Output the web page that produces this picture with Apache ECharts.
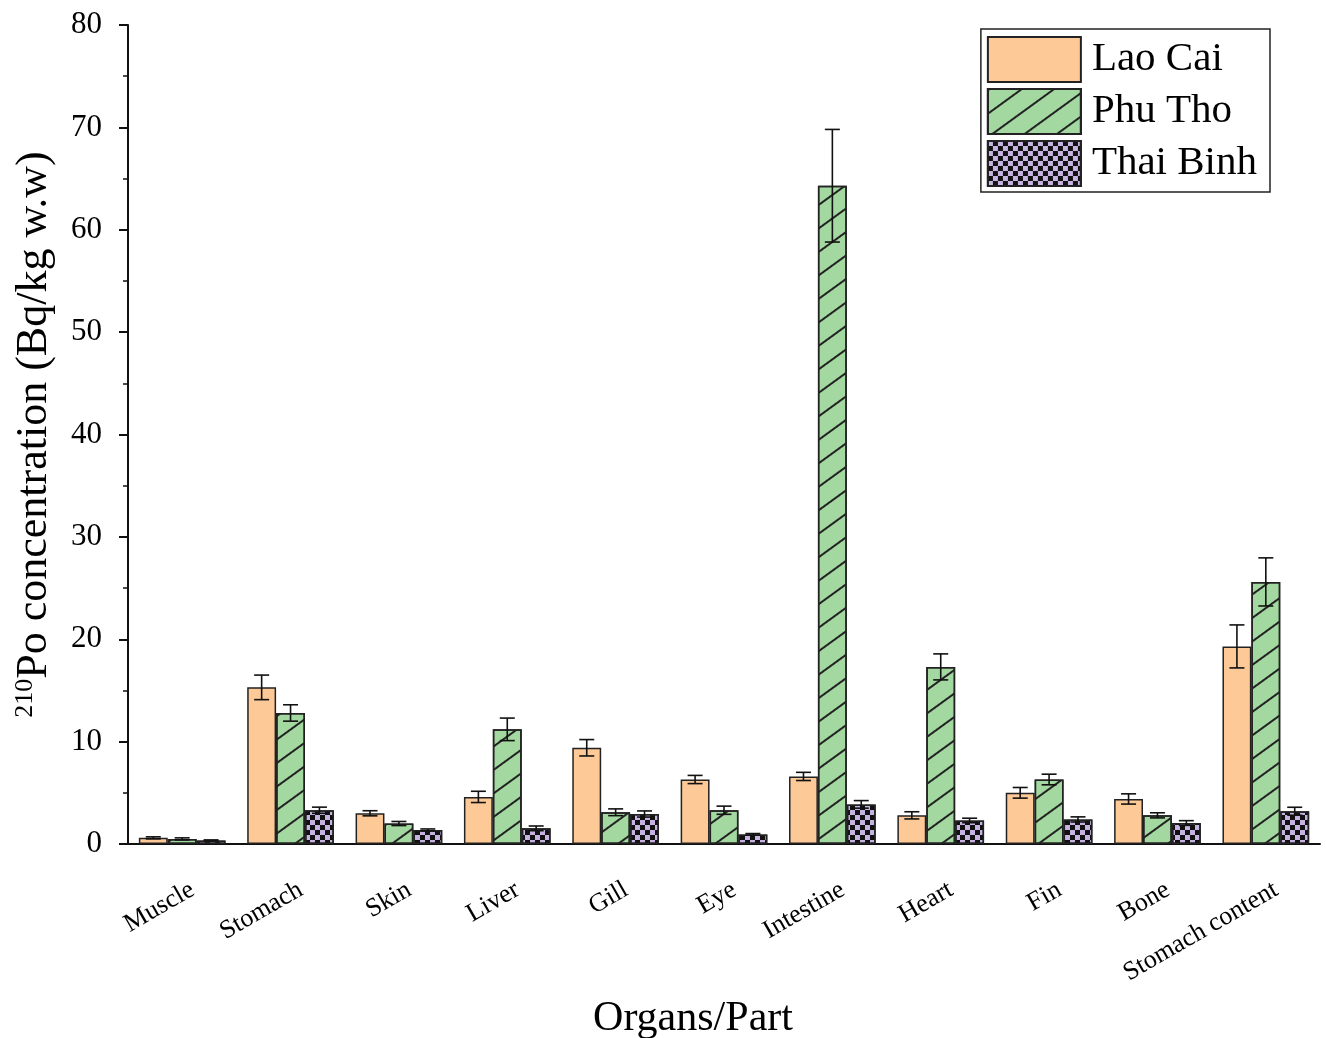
<!DOCTYPE html>
<html>
<head>
<meta charset="utf-8">
<script src="https://cdn.jsdelivr.net/npm/echarts@6/dist/echarts.min.js"></script>
<style>html,body{margin:0;padding:0;background:#fff;}#c{width:1326px;height:1038px;}</style>
</head>
<body>
<div id="c"></div>
<script>
var categories = ['Muscle','Stomach','Skin','Liver','Gill','Eye','Intestine','Heart','Fin','Bone','Stomach content'];
var seriesNames = ['Lao Cai','Phu Tho','Thai Binh'];
var laoCai    = [0.6, 15.3, 3.0, 4.6, 9.4, 6.3, 6.6, 2.8, 5.0, 4.4, 19.3];
var laoCaiErr = [0.1, 1.2, 0.25, 0.55, 0.8, 0.4, 0.4, 0.35, 0.52, 0.5, 2.1];
var phuTho    = [0.5, 12.8, 2.0, 11.2, 3.1, 3.3, 64.3, 17.3, 6.3, 2.8, 25.6];
var phuThoErr = [0.1, 0.8, 0.2, 1.1, 0.33, 0.4, 5.5, 1.27, 0.52, 0.25, 2.35];
var thaiBinh    = [0.35, 3.3, 1.37, 1.53, 2.93, 0.94, 3.87, 2.3, 2.4, 2.05, 3.2];
var thaiBinhErr = [0.05, 0.3, 0.1, 0.23, 0.3, 0.08, 0.37, 0.22, 0.25, 0.23, 0.39];
var yTicks = [0,10,20,30,40,50,60,70,80];

var FONT = '"Liberation Serif","Times New Roman",serif';
var gapRatio = 0.2;

function errData(vals, errs){
  return vals.map(function(v,i){ return [i, v, errs[i]]; });
}
function errRender(idx){
  return function(params, api){
    var x = api.value(0), v = api.value(1), e = api.value(2);
    var c = api.coord([x, v]);
    var band = api.size([1,0])[0];
    var bw = band*(1-gapRatio)/3;
    var cx = c[0] + (idx-1)*bw;
    var top = api.coord([x, v+e])[1];
    var bot = api.coord([x, Math.max(v-e,0)])[1];
    var hw = 7.5;
    var st = {stroke:'#111', lineWidth:1.6};
    return {type:'group', children:[
      {type:'line', shape:{x1:cx,y1:top,x2:cx,y2:bot}, style:st},
      {type:'line', shape:{x1:cx-hw,y1:top,x2:cx+hw,y2:top}, style:st},
      {type:'line', shape:{x1:cx-hw,y1:bot,x2:cx+hw,y2:bot}, style:st}
    ]};
  };
}

var barBorder = {borderColor:'#222', borderWidth:1.5};
var chart = echarts.init(document.getElementById('c'));
chart.setOption({
  animation:false,
  backgroundColor:'#fff',
  grid:{left:128, right:6, top:25, bottom:194, outerBoundsMode:'none', containLabel:false},
  legend:{
    data:seriesNames, orient:'vertical', right:56, top:29,
    itemWidth:93, itemHeight:45, itemGap:5, padding:[7,8,5,6],
    borderColor:'#222', borderWidth:1.5, backgroundColor:'#fff',
    textStyle:{fontFamily:FONT, fontSize:41, lineHeight:45, color:'#000', padding:[0,5,0,6]},
    icon:'rect'
  },
  xAxis:[{
    type:'category', data:categories, position:'bottom',
    name:'Organs/Part', nameLocation:'middle', nameGap:154,
    nameTextStyle:{fontFamily:FONT, fontSize:42, color:'#000', padding:[0,62,0,0]},
    axisLine:{lineStyle:{color:'#111', width:2}},
    axisTick:{alignWithLabel:true, length:13, lineStyle:{color:'#111', width:2}},
    axisLabel:{rotate:30, fontFamily:FONT, fontSize:26, color:'#000', margin:50, interval:0, padding:[0,-12,0,0]}
  },{
    type:'category', data:categories, position:'bottom',
    axisLine:{show:false},
    axisTick:{length:7, lineStyle:{color:'#111', width:2}},
    axisLabel:{show:false}
  }],
  yAxis:{
    type:'value', min:0, max:80, interval:10,
    name:'{sup|210}{n|Po concentration (Bq/kg w.w)}', nameLocation:'middle', nameGap:72, nameRotate:90,
    nameTextStyle:{fontFamily:FONT, color:'#000', rich:{
      sup:{fontFamily:FONT, fontSize:26, color:'#000', verticalAlign:'top', padding:[0,0,18,0]},
      n:{fontFamily:FONT, fontSize:44, color:'#000'}
    }},
    axisLine:{show:true, lineStyle:{color:'#111', width:2}},
    axisTick:{show:true, length:9, lineStyle:{color:'#111', width:2}},
    minorTick:{show:true, splitNumber:2, length:5, lineStyle:{color:'#111', width:1.5}},
    splitLine:{show:false},
    axisLabel:{fontFamily:FONT, fontSize:31, color:'#000', margin:26,
      formatter:function(v){ return yTicks.indexOf(v)>=0 ? String(v) : ''; }}
  },
  series:[
    {name:'Lao Cai', type:'bar', data:laoCai, barGap:'0%', barCategoryGap:'20%',
     itemStyle:Object.assign({color:'#fdc997'}, barBorder)},
    {name:'Phu Tho', type:'bar', data:phuTho, barGap:'0%', barCategoryGap:'20%',
     itemStyle:Object.assign({color:'#a3d9a0', decal:{
       symbol:'rect', color:'#222', dashArrayX:[1,0], dashArrayY:[1.2,17], rotation:-Math.PI*0.2, symbolSize:1
     }}, barBorder)},
    {name:'Thai Binh', type:'bar', data:thaiBinh, barGap:'0%', barCategoryGap:'20%',
     itemStyle:Object.assign({color:'#c7b3e2', decal:{
       symbol:'rect', color:'#111', dashArrayX:[[4.5,4.5],[0,4.5,4.5,0]], dashArrayY:[4.5,0], rotation:0, symbolSize:1
     }}, barBorder)},
    {type:'custom', name:'errLC', renderItem:errRender(0), data:errData(laoCai, laoCaiErr), z:10, silent:true},
    {type:'custom', name:'errPT', renderItem:errRender(1), data:errData(phuTho, phuThoErr), z:10, silent:true},
    {type:'custom', name:'errTB', renderItem:errRender(2), data:errData(thaiBinh, thaiBinhErr), z:10, silent:true}
  ]
});
</script>
</body>
</html>
